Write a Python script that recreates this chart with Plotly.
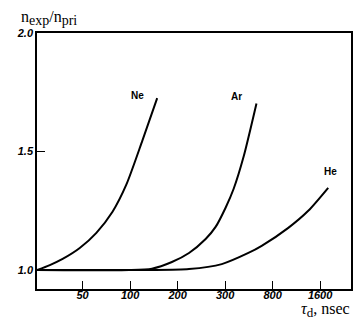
import plotly.graph_objects as go

# x positions are in tick-index units (tick labels are non-uniform)
x_tick_pos = [1, 2, 3, 4, 5, 6]
x_tick_text = ["50", "100", "200", "300", "800", "1600"]
y_tick_vals = [1.0, 1.5, 2.0]
y_tick_text = ["1.0", "1.5", "2.0"]

ne_x = [0.04, 0.31, 0.58, 0.94, 1.29, 1.63, 1.92, 2.26, 2.57]
ne_y = [1.0, 1.021, 1.047, 1.093, 1.157, 1.246, 1.36, 1.547, 1.725]

ar_x = [0.04, 1.98, 2.46, 2.88, 3.24, 3.59, 3.80, 4.01, 4.18, 4.39, 4.66]
ar_y = [1.0, 1.0, 1.006, 1.034, 1.072, 1.131, 1.182, 1.263, 1.343, 1.479, 1.703]

he_x = [0.04, 2.40, 3.24, 3.93, 4.49, 4.77, 5.33, 5.75, 6.17]
he_y = [1.0, 1.0, 1.004, 1.025, 1.072, 1.102, 1.178, 1.25, 1.347]

labels = ["Ne", "Ar", "He"]
label_x = [2.15, 4.24, 6.21]
label_y = [1.737, 1.733, 1.415]

fig = go.Figure()
for xs, ys in [(ne_x, ne_y), (ar_x, ar_y), (he_x, he_y)]:
    fig.add_trace(go.Scatter(x=xs, y=ys, mode="lines",
                             line=dict(color="black", width=2, shape="spline", smoothing=0.7),
                             showlegend=False, hoverinfo="skip"))

for t, lx, ly in zip(labels, label_x, label_y):
    fig.add_annotation(x=lx, y=ly, text=t, showarrow=False,
                       font=dict(family="Liberation Sans Narrow, Arial", size=10, color="black", weight="bold"))

fig.add_annotation(xref="paper", yref="paper", x=-0.058, y=1.01, xanchor="left", yanchor="bottom",
                   text="n<sub><span style='font-size:14px'>exp</span></sub>/n<sub><span style='font-size:14px'>pri</span></sub>",
                   showarrow=False,
                   font=dict(family="Liberation Serif, serif", size=16, color="black"))
fig.add_annotation(xref="paper", yref="paper", x=1.004, y=-0.13, xanchor="right", yanchor="bottom",
                   text="<i>τ</i><sub><span style='font-size:13px'>d</span></sub>, nsec", showarrow=False,
                   font=dict(family="Liberation Serif, serif", size=16, color="black"))

tickfont = dict(family="Liberation Sans, Arial", size=11, color="black", style="italic", weight="bold")
fig.update_xaxes(range=[0.04, 6.65], tickvals=x_tick_pos, ticktext=x_tick_text,
                 ticks="inside", ticklen=8, tickwidth=1.2, tickcolor="black",
                 showline=True, linecolor="black", linewidth=1.5, mirror=True,
                 showgrid=False, zeroline=False, tickfont=tickfont, ticklabelstandoff=-5)
fig.update_yaxes(range=[0.92, 2.0], tickvals=y_tick_vals, ticktext=y_tick_text,
                 ticks="inside", ticklen=8, tickwidth=1.2, tickcolor="black",
                 showline=True, linecolor="black", linewidth=1.5, mirror=True,
                 showgrid=False, zeroline=False, tickfont=tickfont)

fig.update_layout(width=354, height=322, margin=dict(l=37, r=1, t=33, b=33),
                  plot_bgcolor="white", paper_bgcolor="white")

fig.write_html("out.html")
